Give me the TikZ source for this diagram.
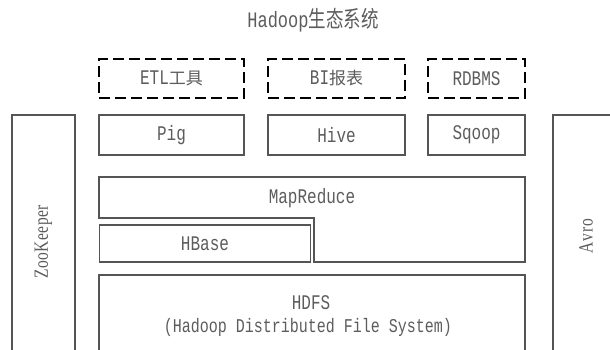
\documentclass[tikz,border=0pt]{standalone}
\usepackage{fontspec}
\usepackage{graphicx}
\newfontfamily\lmono{Liberation Mono}
\newfontfamily\lserif{Liberation Serif}
\newfontfamily\cjk{Noto Sans CJK SC}
\newcommand\tallt[1]{\scalebox{1}[1.3]{#1}}
\definecolor{textgray}{HTML}{5C5C5C}
\definecolor{boxgray}{HTML}{555555}
\tikzset{
  lbl/.style={text=textgray, inner sep=0pt, font=\fontsize{16}{18}\lmono},
  solidbox/.style={draw=boxgray, line width=1.1pt, inner sep=0pt, text=textgray, font=\fontsize{16}{18}\lmono},
  dashbox/.style={draw=black, line width=2.6pt, dash pattern=on 11pt off 5pt, inner sep=0pt, text=textgray, font=\fontsize{16}{18}\lmono},
  sidelbl/.style={text=textgray, inner sep=0pt, rotate=90, font=\fontsize{15.5}{18}\lserif},
}
\begin{document}
\begin{tikzpicture}[x=1pt,y=-1pt]
\useasboundingbox (0,0) rectangle (610,349);
\begin{scope}
\clip (0,0) rectangle (610,349);
% title
\node[lbl] (title) at (313,20) {\tallt{{\fontsize{17}{18}\lmono Hadoop}{\fontsize{17.5}{18}\cjk 生态系统}}};
% dashed row
\node[dashbox, minimum width=145pt, minimum height=39pt] (etl) at (171.5,78.5) {\tallt{ETL}{\fontsize{17}{18}\cjk 工具}};
\node[dashbox, minimum width=137pt, minimum height=39pt] (bi) at (336.5,78.5) {\tallt{BI}{\fontsize{17}{18}\cjk 报表}};
\node[dashbox, minimum width=97pt, minimum height=39pt] (rdbms) at (476.5,78.5) {\tallt{RDBMS}};
% solid row
\node[solidbox, minimum width=145pt, minimum height=40pt] (pig) at (171.5,135) {\tallt{Pig}};
\node[solidbox, minimum width=137pt, minimum height=40pt] (hive) at (336.5,135) {\tallt{Hive}};
\node[solidbox, minimum width=97pt, minimum height=40pt] (sqoop) at (476.5,135) {\tallt{Sqoop}};
% side columns
\draw[draw=boxgray, line width=1.1pt] (12,115) rectangle (75,370);
\node[sidelbl] (zk) at (43.5,242) {\tallt{Z\kern0.5pt o\kern0.5pt o\kern0.5pt K\kern0.5pt e\kern0.5pt e\kern0.5pt p\kern0.5pt e\kern0.5pt r}};
\draw[draw=boxgray, line width=1.1pt] (553,115) rectangle (630,370);
\node[sidelbl] (avro) at (586,236) {\tallt{A\kern1pt v\kern1pt r\kern1pt o}};
% MapReduce
\draw[draw=boxgray, line width=1.1pt] (99,177) -- (525,177) -- (525,262) -- (314,262) -- (314,218) -- (99,218) -- cycle;
\node[lbl] (mr) at (312,198) {\tallt{MapReduce}};
% HBase
\node[solidbox, minimum width=211pt, minimum height=37pt] (hbase) at (205,243.5) {\tallt{HBase}};
% HDFS
\draw[draw=boxgray, line width=1.1pt] (99,275) rectangle (525,370);
\node[lbl] (hdfs) at (311,303) {\tallt{HDFS}};
\node[lbl, font=\fontsize{15}{18}\lmono] (hdfs2) at (308,327) {\tallt{(Hadoop Distributed File System)}};
\end{scope}
\end{tikzpicture}
\end{document}
